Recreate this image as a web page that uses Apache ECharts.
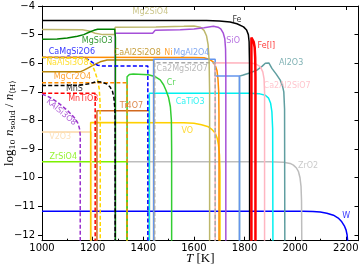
<!DOCTYPE html>
<html><head><meta charset="utf-8">
<script src="https://cdn.jsdelivr.net/npm/echarts@6/dist/echarts.min.js"></script>
<style>html,body{margin:0;padding:0;background:#fff}#c{width:361px;height:271px}</style>
</head><body><div id="c"></div>
<script>
// ---- tick values ----
const xTicks = [1000,1200,1400,1600,1800,2000,2200];
const xMinor = [1100,1300,1500,1700,1900,2100];
const yTicks = [-12,-11,-10,-9,-8,-7,-6,-5,-4];

// ---- series values [T, log10 n] ----
const W = [[1000,-11.17],[1950,-11.17],[2030,-11.175],[2070,-11.18],[2099,-11.2],[2125,-11.24],[2151,-11.31],[2170,-11.41],[2184,-11.54],[2194,-11.68],[2201,-11.83],[2205,-12.0],[2207,-12.2]];
const ZrO2 = [[1336,-12.2],[1336,-9.44],[1900,-9.44],[1954,-9.46],[1980,-9.5],[1993,-9.56],[2005,-9.66],[2013,-9.79],[2019,-10.0],[2023,-10.3],[2025,-10.8],[2026,-12.2]];
const ZrSiO4 = [[1000,-9.44],[1336,-9.44],[1336,-12.2]];
const V2O3 = [[1000,-8.4],[1195,-8.4],[1195,-12.2]];
const VO = [[1192,-12.2],[1192,-8.07],[1560,-8.08],[1600,-8.1],[1630,-8.15],[1657,-8.22],[1672,-8.32],[1684,-8.44],[1692,-8.62],[1697,-8.85],[1701,-9.2],[1703,-9.8],[1703,-12.2]];
const Ti4O7 = [[1217,-12.2],[1217,-7.66],[1424,-7.66],[1424,-12.2]];
const CaTiO3 = [[1424,-12.2],[1424,-7.05],[1820,-7.05],[1860,-7.07],[1882,-7.12],[1895,-7.22],[1903,-7.4],[1908,-7.7],[1911,-8.3],[1912,-12.2]];
const Cr = [[1336,-12.2],[1336,-6.47],[1345,-6.39],[1360,-6.38],[1420,-6.4],[1445,-6.46],[1467,-6.58],[1480,-6.75],[1490,-6.95],[1500,-7.2],[1507,-7.52],[1511,-8.0],[1512,-9],[1512,-12.2]];
const CaAl2Si2O8 = [[1000,-6.3],[1150,-6.3],[1164,-6.25],[1185,-6.15],[1204,-6.06],[1230,-5.95],[1257,-5.89],[1441,-5.89],[1441,-12.2]];
const Ni = [[1000,-5.79],[1600,-5.8],[1640,-5.81],[1660,-5.86],[1676,-5.95],[1685,-6.1],[1691,-6.25],[1695,-6.55],[1698,-7.0],[1699,-7.8],[1699,-12.2]];
const Al2O3 = [[1780,-12.2],[1780,-6.45],[1795,-6.41],[1820,-6.34],[1849,-6.24],[1870,-6.1],[1882,-6.0],[1888,-5.95],[1896,-5.99],[1908,-6.18],[1925,-6.38],[1941,-6.59],[1950,-6.8],[1955,-7.0],[1958,-7.6],[1959,-12.2]];
const MgAl2O4 = [[1441,-12.2],[1441,-5.86],[1684,-5.86],[1684,-6.45],[1780,-6.45],[1780,-12.2]];
const Ca2Al2SiO7 = [[1684,-12.2],[1684,-5.98],[1825,-5.99],[1845,-6.03],[1862,-6.12],[1872,-6.3],[1877,-6.55],[1879,-7.0],[1879,-12.2]];
const Ca2MgSi2O7 = [[1445,-12.2],[1445,-5.98],[1684,-5.98],[1684,-12.2]];
const Mg2SiO4 = [[1000,-4.82],[1160,-4.83],[1185,-4.87],[1210,-4.95],[1240,-5.0],[1288,-5.0],[1289,-4.74],[1450,-4.73],[1560,-4.71],[1600,-4.7],[1625,-4.74],[1640,-4.85],[1650,-5.05],[1656,-5.35],[1660,-5.9],[1662,-7],[1662,-12.2]];
const SiO = [[1289,-12.2],[1289,-4.95],[1437,-4.95],[1447,-4.85],[1546,-4.83],[1600,-4.8],[1640,-4.76],[1677,-4.71],[1695,-4.74],[1706,-4.8],[1716,-4.95],[1722,-5.15],[1725,-5.5],[1726,-6.2],[1726,-12.2]];
const MgSiO3 = [[1000,-5.16],[1060,-5.15],[1100,-5.12],[1140,-5.06],[1165,-5.0],[1190,-4.9],[1205,-4.85],[1220,-4.81],[1287,-4.81],[1290,-5.1],[1290,-12.2]];
const Fe = [[1000,-4.51],[1650,-4.51],[1700,-4.52],[1743,-4.56],[1770,-4.62],[1796,-4.73],[1808,-4.84],[1815,-5.0],[1818,-5.25],[1819.5,-6],[1820,-12.2]];
const FeL = [[1827,-12.2],[1827,-5.1],[1831,-5.15],[1836,-5.25],[1840,-5.45],[1842,-5.8],[1843,-6.5],[1843,-12.2]];
const CaMgSi2O6 = [[1000,-5.8],[1165,-5.8],[1185,-5.88],[1200,-5.98],[1220,-6.07],[1240,-6.1],[1418,-6.1],[1418,-12.2]];
const NaAlSi3O8 = [[1000,-5.8],[1160,-5.81],[1172,-5.84],[1185,-5.93],[1195,-6.05],[1205,-6.2],[1213,-6.4],[1220,-6.6],[1226,-6.9],[1229,-7.3],[1230,-8],[1230,-12.2]];
const MgCr2O4 = [[1000,-6.68],[1336,-6.68],[1336,-12.2]];
const MnS = [[1000,-6.78],[1150,-6.77],[1190,-6.71],[1215,-6.64],[1235,-6.66],[1255,-6.72],[1268,-6.82],[1278,-6.97],[1284,-7.2],[1288,-7.6],[1289,-8.3],[1289,-12.2]];
const MnTiO3 = [[1000,-7.05],[1210,-7.05],[1210,-12.2]];
const KAlSi3O8 = [[1000,-7.08],[1020,-7.14],[1040,-7.24],[1059,-7.35],[1080,-7.5],[1099,-7.64],[1115,-7.78],[1131,-7.93],[1142,-8.1],[1148,-8.28],[1151,-8.5],[1151,-12.2]];

// ---- labels ----
const labelTexts = ['Mg2SiO4','Fe','MgSiO3','SiO','Fe[l]','CaMgSi2O6','CaAl2Si2O8','Ni','MgAl2O4','NaAlSi3O8','Ca2MgSi2O7','Al2O3','MgCr2O4','Cr','Ca2Al2SiO7','MnS','MnTiO3','CaTiO3','KAlSi3O8','Ti4O7','VO','V2O3','ZrSiO4','ZrO2','W'];
const labelPos = [[1428,-4.21],[1770,-4.47],[1218,-5.21],[1755,-5.21],[1886,-5.40],[1118,-5.6],[1376,-5.65],[1499,-5.63],[1590,-5.63],[1100,-5.99],[1554,-6.2],[1984,-6.0],[1120,-6.47],[1510,-6.70],[1968,-6.80],[1128,-6.90],[1163,-7.25],[1585,-7.35],[1076,-7.71],[1353,-7.48],[1574,-8.36],[1072,-8.58],[1084,-9.28],[2051,-9.58],[2201,-11.34]];
const labelRot = [0,0,0,0,0,0,0,0,0,0,0,0,0,0,0,0,0,0,-40,0,0,0,0,0,0];

// ---- styles ----
const C = {
  W:'#0000ff', ZrO2:'#bdbdbd', ZrSiO4:'#7cf000', V2O3:'#fcd9a8', VO:'#ffd000', Ti4O7:'#d2691e',
  CaTiO3:'#00f0f0', Cr:'#32cd32', CaAl2Si2O8:'#b8860b', Ni:'#ff8c00', Al2O3:'#5f9ea0',
  MgAl2O4:'#6495ed', Ca2Al2SiO7:'#ffb6c1', Ca2MgSi2O7:'#a9a9a9', Mg2SiO4:'#bdb76b',
  SiO:'#a550d8', MgSiO3:'#008000', Fe:'#000000', FeL:'#ff0000', CaMgSi2O6:'#0000ff',
  NaAlSi3O8:'#ffd700', MgCr2O4:'#ff8c00', MnS:'#000000', MnTiO3:'#ff0000', KAlSi3O8:'#9932cc'
};
const labelColor = [C.Mg2SiO4,C.Fe,C.MgSiO3,C.SiO,C.FeL,C.CaMgSi2O6,C.CaAl2Si2O8,C.Ni,C.MgAl2O4,C.NaAlSi3O8,C.Ca2MgSi2O7,C.Al2O3,C.MgCr2O4,C.Cr,C.Ca2Al2SiO7,C.MnS,C.MnTiO3,C.CaTiO3,C.KAlSi3O8,C.Ti4O7,C.VO,C.V2O3,C.ZrSiO4,C.ZrO2,C.W];

const DASH = [4,2.2];
function mk(name, data, width, dashed){
  return {type:'line', name, data, symbol:'none', showSymbol:false, animation:false,
    lineStyle:{color:C[name], width:width, type: dashed ? DASH : 'solid'}, itemStyle:{color:C[name]}, silent:true};
}
const series = [
  mk('W', W, 1.5), mk('ZrO2', ZrO2, 1.5), mk('ZrSiO4', ZrSiO4, 1.5), mk('V2O3', V2O3, 1.5),
  mk('VO', VO, 1.5), mk('Ti4O7', Ti4O7, 1.5), mk('CaTiO3', CaTiO3, 1.5), mk('Cr', Cr, 1.5),
  mk('CaAl2Si2O8', CaAl2Si2O8, 1.5), mk('Ni', Ni, 1.5), mk('Al2O3', Al2O3, 1.5),
  mk('MgAl2O4', MgAl2O4, 1.5), mk('Ca2Al2SiO7', Ca2Al2SiO7, 1.5), mk('Ca2MgSi2O7', Ca2MgSi2O7, 1.5, true),
  mk('Mg2SiO4', Mg2SiO4, 1.5), mk('SiO', SiO, 1.5), mk('MgSiO3', MgSiO3, 1.5),
  mk('Fe', Fe, 1.5), mk('FeL', FeL, 2.5), mk('CaMgSi2O6', CaMgSi2O6, 1.5, true),
  mk('NaAlSi3O8', NaAlSi3O8, 1.5, true), mk('MgCr2O4', MgCr2O4, 1.5, true), mk('MnS', MnS, 1.5, true),
  mk('MnTiO3', MnTiO3, 1.5, true), mk('KAlSi3O8', KAlSi3O8, 1.5, true)
];
series.push({
  type:'scatter', symbol:'circle', symbolSize:1, itemStyle:{color:'rgba(0,0,0,0)'}, silent:true, animation:false, z:10,
  labelLayout:{hideOverlap:false},
  label:{show:true, position:'inside', fontFamily:'DejaVu Sans', fontSize:8},
  data: labelTexts.map((t,i)=>({value:labelPos[i], label:{show:true, formatter:t, color:labelColor[i], rotate:labelRot[i]}}))
});

const ax = {lineStyle:{color:'#000', width:1}};
const minus = v => (v<0?'\u2212':'') + Math.abs(v);
const option = {
  animation:false,
  grid:{left:42, right:2.5, top:6, bottom:30.3, show:false, containLabel:false, outerBoundsMode:'none'},
  xAxis:[
    {type:'value', min:1000, max:2250, position:'bottom', axisLine:{show:true, onZero:false, lineStyle:ax.lineStyle},
     axisTick:{show:true, inside:true, length:4, customValues:xTicks, lineStyle:ax.lineStyle},
     axisLabel:{customValues:xTicks, formatter:v=>String(v), fontFamily:'DejaVu Sans', fontSize:10, color:'#000', margin:3},
     splitLine:{show:false},
     name:'{i|T} {r|[K]}', nameLocation:'middle', nameGap:11, nameMoveOverlap:false,
     nameTextStyle:{rich:{i:{fontFamily:'Liberation Serif', fontStyle:'italic', fontSize:13, color:'#000'}, r:{fontFamily:'Liberation Serif', fontSize:13, color:'#000'}}}},
    {type:'value', min:1000, max:2250, position:'bottom', offset:0, axisLine:{show:false},
     axisTick:{show:true, inside:true, length:2, customValues:xMinor, lineStyle:ax.lineStyle},
     axisLabel:{show:false}, splitLine:{show:false}},
    {type:'value', min:1000, max:2250, position:'top', offset:0, axisLine:{show:true, onZero:false, lineStyle:ax.lineStyle},
     axisTick:{show:true, inside:true, length:4, customValues:xTicks, lineStyle:ax.lineStyle},
     axisLabel:{show:false}, splitLine:{show:false}}
  ],
  yAxis:[
    {type:'value', min:-12.2, max:-4, position:'left', axisLine:{show:true, onZero:false, lineStyle:ax.lineStyle},
     axisTick:{show:true, inside:false, length:4, customValues:yTicks, lineStyle:ax.lineStyle},
     axisLabel:{customValues:yTicks, formatter:minus, fontFamily:'DejaVu Sans', fontSize:10, color:'#000', margin:7},
     splitLine:{show:false},
     name:'{r|log}{s|10}{r| }{i|n}{s|solid}{r| / }{i|n}{s|\u27e8H\u27e9}', nameLocation:'middle', nameGap:25, nameRotate:90, nameMoveOverlap:false,
     nameTextStyle:{rich:{
       r:{fontFamily:'Liberation Serif', fontSize:13, lineHeight:15, color:'#000'},
       i:{fontFamily:'Liberation Serif', fontStyle:'italic', fontSize:13, lineHeight:15, color:'#000'},
       s:{fontFamily:'DejaVu Serif', fontSize:8, lineHeight:9, verticalAlign:'bottom', color:'#000'}}}},
    {type:'value', min:-12.2, max:-4, position:'right', offset:0, axisLine:{show:true, onZero:false, lineStyle:ax.lineStyle},
     axisTick:{show:true, inside:true, length:4, customValues:yTicks, lineStyle:ax.lineStyle},
     axisLabel:{show:false}, splitLine:{show:false}}
  ],
  series: series
};
const chart = echarts.init(document.getElementById('c'), null, {renderer:'canvas'});
chart.setOption(option);
</script></body></html>
